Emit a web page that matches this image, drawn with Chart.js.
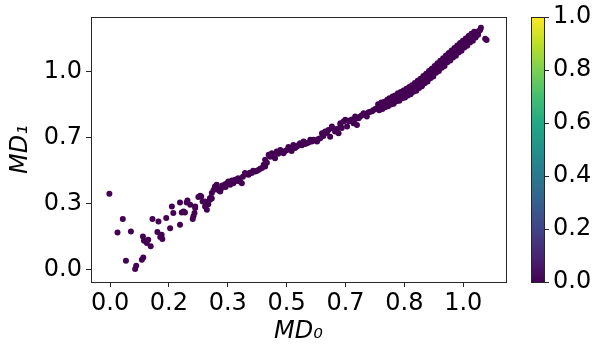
<!DOCTYPE html>
<html><head><meta charset="utf-8">
<script src="https://cdn.jsdelivr.net/npm/chart.js@4.4.1/dist/chart.umd.min.js"></script>
<style>html,body{margin:0;padding:0;background:#fff;}#wrap{width:598px;height:357px;}</style>
</head><body><div id="wrap"><canvas id="c" width="598" height="357"></canvas></div>
<script>
// MD_0 values (x)
const md0 = [
-0.002,0.036,0.021,0.059,0.045,0.071,0.074,0.09,0.094,0.093,0.096,0.104,0.108,0.115,0.12,0.137,0.134,0.146,0.148,0.142,0.159,0.17,0.175,0.179,0.198,0.198,0.203,0.212,0.219,0.227,0.234,0.239,0.241,0.236,0.25,0.258,0.269,0.274,0.272,0.283,0.262,0.278,0.288,0.208,0.217,0.241,0.255,0.269,
0.283,0.288,0.293,0.297,0.302,0.312,0.316,0.321,0.331,0.335,0.340,0.349,0.354,0.363,0.368,0.373,0.382,0.392,0.401,0.411,0.420,0.430,0.439,0.305,0.318,0.326,0.338,0.345,0.358,0.376,0.386,0.396,0.405,0.415,0.425,0.435,0.308,0.327,0.36,
0.439,0.449,0.458,0.467,0.472,0.482,0.491,0.501,0.510,0.519,0.529,0.538,0.548,0.557,0.567,0.576,0.586,0.595,0.600,0.609,0.618,0.623,0.628,0.637,0.647,0.652,0.656,0.666,0.671,0.689,0.699,0.708,0.718,0.727,0.737,0.746,0.756,
0.444,0.453,0.462,0.476,0.486,0.496,0.505,0.514,0.524,0.534,0.543,0.552,0.562,0.571,0.581,0.59,0.604,0.614,0.632,0.642,0.661,0.676,0.68,0.685,0.694,0.704,0.713,0.722,0.732,0.742,0.751,0.76,0.652,0.694,
0.762,0.766,0.759,0.771,0.774,0.768,0.779,0.783,0.777,0.787,0.790,0.785,0.795,0.798,0.791,0.803,0.806,0.800,0.811,0.813,0.807,0.819,0.822,0.815,0.827,0.830,0.823,0.835,0.836,0.831,0.843,0.846,0.839,0.851,0.853,0.847,0.859,0.862,0.855,0.867,0.868,0.863,0.875,0.878,0.871,0.883,0.884,0.879,0.891,0.894,0.887,0.899,0.900,0.895,0.907,0.910,0.903,0.915,0.916,0.911,0.923,0.926,0.919,0.931,0.932,0.927,0.939,0.942,0.935,0.947,0.948,0.943,0.955,0.958,0.951,0.963,0.964,0.959,0.971,0.974,0.967,0.979,0.980,0.975,0.987,0.990,0.983,0.995,0.996,0.991,1.003,1.006,0.999,1.011,1.012,1.007,1.019,1.022,1.015,1.027,1.028,1.023,1.035,1.038,1.031,1.042,1.044,1.048,1.050,1.062,1.066
];
// MD_1 values (y)
const md1 = [
0.383,0.256,0.188,0.193,0.045,0.004,0.02,0.05,0.062,0.168,0.146,0.135,0.151,0.118,0.256,0.244,0.19,0.176,0.155,0.165,0.261,0.21,0.319,0.286,0.34,0.227,0.289,0.289,0.35,0.328,0.256,0.286,0.311,0.27,0.367,0.37,0.319,0.303,0.336,0.353,0.345,0.33,0.36,0.294,0.339,0.319,0.373,0.344,
0.362,0.387,0.403,0.42,0.429,0.395,0.412,0.42,0.437,0.445,0.429,0.437,0.454,0.462,0.445,0.437,0.488,0.479,0.488,0.496,0.504,0.513,0.521,0.41,0.425,0.432,0.44,0.45,0.455,0.47,0.482,0.49,0.5,0.498,0.51,0.53,0.4,0.418,0.448,
0.555,0.580,0.588,0.563,0.597,0.605,0.588,0.605,0.613,0.630,0.622,0.639,0.647,0.639,0.656,0.656,0.647,0.664,0.689,0.698,0.706,0.672,0.723,0.698,0.689,0.740,0.715,0.757,0.723,0.740,0.731,0.773,0.790,0.773,0.798,0.807,0.815,
0.54,0.57,0.575,0.585,0.595,0.6,0.62,0.6,0.615,0.63,0.628,0.635,0.642,0.648,0.652,0.66,0.675,0.69,0.712,0.71,0.748,0.75,0.755,0.758,0.76,0.765,0.78,0.785,0.795,0.8,0.812,0.82,0.731,0.773,
0.805,0.824,0.836,0.812,0.833,0.844,0.82,0.836,0.848,0.826,0.845,0.858,0.834,0.849,0.866,0.838,0.858,0.874,0.85,0.864,0.88,0.853,0.875,0.891,0.866,0.878,0.897,0.87,0.891,0.905,0.88,0.895,0.914,0.886,0.907,0.923,0.898,0.913,0.932,0.904,0.927,0.943,0.918,0.933,0.954,0.926,0.95,0.964,0.942,0.958,0.978,0.95,0.974,0.99,0.967,0.983,1.003,0.976,1.0,1.015,0.994,1.01,1.028,1.003,1.027,1.043,1.02,1.036,1.055,1.028,1.052,1.068,1.047,1.061,1.081,1.056,1.078,1.094,1.072,1.086,1.107,1.08,1.102,1.12,1.097,1.111,1.132,1.106,1.128,1.145,1.122,1.136,1.156,1.131,1.152,1.168,1.147,1.16,1.18,1.156,1.177,1.192,1.172,1.186,1.202,1.186,1.205,1.21,1.222,1.166,1.16
];
const xTickValues = [0, 1/6, 2/6, 3/6, 4/6, 5/6, 1];
const xTickLabels = ['0.0','0.2','0.3','0.5','0.7','0.8','1.0'];
const yTickValues = [0, 1/3, 2/3, 1];
const yTickLabels = ['0.0','0.3','0.7','1.0'];
const cbarTickValues = [0, 0.2, 0.4, 0.6, 0.8, 1.0];
const cbarTickLabels = ['0.0','0.2','0.4','0.6','0.8','1.0'];
const viridis = ['#440154','#482475','#414487','#355f8d','#2a788e','#21918c','#22a884','#44bf70','#7ad151','#bddf26','#fde725'];

const FONT = 'DejaVu Sans';
const FS = 24;

const points = md0.map((x,i)=>({x:x, y:md1[i]}));

const framePlugin = {
  id:'frame',
  afterDraw(chart){
    const ctx = chart.ctx, a = chart.chartArea;
    ctx.save();
    ctx.strokeStyle = '#262626';
    ctx.lineWidth = 1;
    ctx.strokeRect(Math.round(a.left)+0.5, Math.round(a.top)+0.5, Math.round(a.right-a.left), Math.round(a.bottom-a.top));
    // colorbar
    const s = chart.scales.cb;
    const x0 = s.left + 25, x1 = s.left + 38;
    const top = s.getPixelForValue(1), bot = s.getPixelForValue(0);
    const g = ctx.createLinearGradient(0, bot, 0, top);
    viridis.forEach((c,i)=>g.addColorStop(i/(viridis.length-1), c));
    ctx.fillStyle = g;
    ctx.fillRect(x0, top, x1-x0, bot-top);
    ctx.strokeStyle = '#262626';
    ctx.strokeRect(Math.round(x0)+0.5, Math.round(top)+0.5, Math.round(x1-x0), Math.round(bot-top));
    cbarTickValues.forEach(v=>{
      const y = Math.round(s.getPixelForValue(v))+0.5;
      ctx.beginPath(); ctx.moveTo(Math.round(x1)+0.5, y); ctx.lineTo(Math.round(x1)+5, y); ctx.stroke();
    });
    ctx.restore();
  }
};

function noVPad(s){ s.paddingTop = 0; s.paddingBottom = 0; }

new Chart(document.getElementById('c'), {
  type:'scatter',
  data:{datasets:[{data:points, backgroundColor:'#440154', borderWidth:0, pointRadius:3, pointHoverRadius:3}]},
  options:{
    responsive:false, animation:false,
    layout:{padding:{top:17,left:0,right:0,bottom:0}},
    plugins:{legend:{display:false}, tooltip:{enabled:false}},
    scales:{
      x:{type:'linear', min:-0.054, max:1.121,
        afterBuildTicks(s){ s.ticks = xTickValues.map(v=>({value:v})); },
        afterFit(s){ s.height = 75; s.paddingLeft = 0; s.paddingRight = 0; },
        ticks:{callback:(v,i)=>xTickLabels[i], color:'#000', font:{family:FONT,size:FS}, padding:2, maxRotation:0, autoSkip:false},
        grid:{drawOnChartArea:false, drawTicks:true, tickLength:5, color:'#262626'},
        border:{display:true, color:'#262626'},
        title:{display:true, text:'MD\u2080', color:'#000', font:{family:FONT,size:FS,style:'italic'}, padding:{top:0,bottom:11}}
      },
      y:{type:'linear', min:-0.062, max:1.276,
        afterBuildTicks(s){ s.ticks = yTickValues.map(v=>({value:v})); },
        afterFit(s){ s.width = 91; noVPad(s); },
        ticks:{callback:(v,i)=>yTickLabels[i], color:'#000', font:{family:FONT,size:FS}, padding:4, autoSkip:false},
        grid:{drawOnChartArea:false, drawTicks:true, tickLength:5, color:'#262626'},
        border:{display:true, color:'#262626'},
        title:{display:true, text:'MD\u2081', color:'#000', font:{family:FONT,size:FS,style:'italic'}, padding:{top:6,bottom:0}}
      },
      cb:{type:'linear', position:'right', min:0, max:1,
        afterBuildTicks(s){ s.ticks = cbarTickValues.map(v=>({value:v})); },
        afterFit(s){ s.width = 92; noVPad(s); },
        ticks:{callback:(v,i)=>cbarTickLabels[i], color:'#000', font:{family:FONT,size:FS}, padding:47, autoSkip:false},
        grid:{display:false, drawTicks:false, drawOnChartArea:false},
        border:{display:false}
      }
    }
  },
  plugins:[framePlugin]
});
</script></body></html>
